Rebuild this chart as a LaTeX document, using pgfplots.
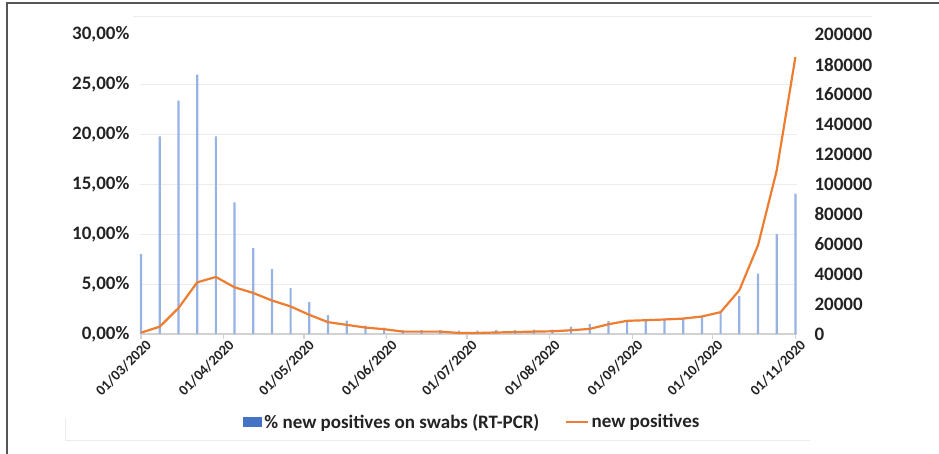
\documentclass[border=0pt]{standalone}
\usepackage{pgfplots}
\pgfplotsset{compat=1.18}
\usepackage{pgfplotstable}
\usepackage{fontspec}
\setmainfont{Carlito}
\definecolor{barblue}{RGB}{150,179,228}
\definecolor{legblue}{RGB}{68,114,196}
\definecolor{lineorange}{RGB}{237,125,49}
\definecolor{gridgray}{RGB}{236,236,236}
\definecolor{axisgray}{RGB}{210,210,210}
\definecolor{txt}{RGB}{35,35,35}
\definecolor{framegray}{RGB}{85,85,85}

\pgfplotstableread{
day pct cases
0 8.0 900
7 19.8 4900
14 23.4 17300
21 26.0 34500
28 19.8 38100
35 13.2 31200
42 8.6 27400
49 6.5 22400
56 4.6 18400
63 3.2 12800
70 1.9 7900
77 1.35 6100
84 0.85 4300
91 0.64 3200
98 0.4 1600
105 0.4 1600
112 0.4 1600
119 0.35 700
126 0.35 700
133 0.4 1000
140 0.4 1300
147 0.45 1600
154 0.45 1800
161 0.74 2500
168 1.0 3400
175 1.3 6500
182 1.4 8800
189 1.3 9200
196 1.5 9700
203 1.6 10300
210 1.75 11700
217 2.25 14600
224 3.8 29200
231 6.06 59300
238 10.0 109300
245 14.07 185000
}\data

\begin{document}
\begin{tikzpicture}[x=1pt,y=1pt]
\useasboundingbox (0,0) rectangle (939,454);
\draw[framegray, line width=2pt] (7,0) -- (7,451) -- (939,451);
\draw[gridgray, line width=1pt] (133,437) -- (872,437);
\draw[gridgray, line width=1pt] (65,36) -- (65,13) -- (810,13);

\begin{axis}[
  at={(140pt,120pt)}, anchor=south west,
  width=657pt, height=299.3pt, scale only axis,
  xmin=-0.4, xmax=245.6, ymin=0, ymax=30,
  axis x line*=bottom, axis y line*=left,
  x axis line style={axisgray, line width=1.3pt},
  y axis line style={draw=none},
  tick align=outside, major tick length=5pt,
  xtick style={axisgray, line width=1.2pt},
  ytick style={draw=none},
  xtick={0,31,61,92,122,153,184,214,245},
  xticklabels={01/03/2020,01/04/2020,01/05/2020,01/06/2020,01/07/2020,01/08/2020,01/09/2020,01/10/2020,01/11/2020},
  xticklabel style={rotate=45, anchor=east, font=\bfseries\fontsize{14.5}{16}\selectfont, text=txt, inner sep=1pt, yshift=-8pt, xshift=4pt},
  ytick={0,5,10,15,20,25,30},
  yticklabels={{0,00\%},{5,00\%},{10,00\%},{15,00\%},{20,00\%},{25,00\%},{30,00\%}},
  extra y ticks={5,10,15,20,25}, extra y tick labels={},
  extra y tick style={grid=major, ytick style={draw=none}},
  grid style={gridgray, line width=1.2pt},
  yticklabel style={font=\bfseries\fontsize{19}{21}\selectfont, text=txt, xshift=-2pt},
  legend columns=2,
  legend style={draw=none, fill=none, at={(0.506,-0.294)}, anchor=center,
    font=\bfseries\fontsize{19}{21}\selectfont, text=txt,
    /tikz/every even column/.append style={column sep=24pt}},
  clip=false,
]
\addplot[ybar, bar width=2.2pt, draw=none, fill=barblue,
  legend image code/.code={\fill[legblue] (0pt,-5pt) rectangle (19pt,5pt);}]
  table[x=day, y=pct]{\data};
\addlegendentry{\% new positives on swabs (RT-PCR)}
\addlegendimage{legend image code/.code={\draw[lineorange, line width=2.2pt] (0pt,0pt) -- (22pt,0pt);}}
\addlegendentry{new positives}
\end{axis}

\begin{axis}[
  at={(140pt,120pt)}, anchor=south west,
  width=657pt, height=299.3pt, scale only axis,
  xmin=-0.4, xmax=245.6, ymin=0, ymax=200000,
  axis x line=none, axis y line*=right,
  y axis line style={draw=none},
  ytick style={draw=none},
  scaled y ticks=false,
  ytick={0,20000,40000,60000,80000,100000,120000,140000,160000,180000,200000},
  yticklabels={0,20000,40000,60000,80000,100000,120000,140000,160000,180000,200000},
  yticklabel style={font=\bfseries\fontsize{19}{21}\selectfont, text=txt, anchor=west, xshift=14pt},
  clip=false,
]
\addplot[lineorange, line width=2.2pt, line join=round] table[x=day, y=cases]{\data};
\end{axis}
\end{tikzpicture}
\end{document}
